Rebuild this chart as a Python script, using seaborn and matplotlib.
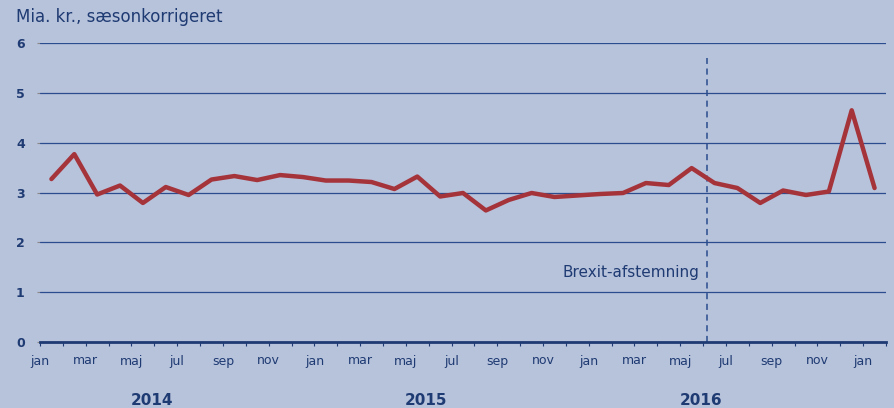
import numpy as np
import pandas as pd
import matplotlib.pyplot as plt
import matplotlib.transforms as mtransforms
import seaborn as sns

# Monthly values jan 2014 - jan 2017 (mia. kr., seasonally adjusted)
values = [3.27, 3.77, 2.96, 3.14, 2.79, 3.11, 2.95, 3.26, 3.33, 3.25, 3.35, 3.31,
          3.24, 3.24, 3.21, 3.07, 3.32, 2.92, 2.99, 2.64, 2.85, 2.99, 2.91, 2.94,
          2.97, 2.99, 3.19, 3.15, 3.49, 3.19, 3.09, 2.79, 3.04, 2.95, 3.02, 4.65, 3.09]
month_labels = ['jan', 'mar', 'maj', 'jul', 'sep', 'nov'] * 3 + ['jan']
years = ['2014', '2015', '2016']
year_pos = [4.9, 16.9, 28.9]
brexit_month = 29.15

bg = '#b7c2db'
navy = '#1f3b73'
grid = '#2b4c8e'
red = '#a5333a'

sns.set_theme(style='white')
plt.rcParams['font.family'] = ['DejaVu Sans']

df = pd.DataFrame({'month': np.arange(len(values)) + 0.5, 'value': values})

fig = plt.figure(figsize=(8.94, 4.08), dpi=100, facecolor=bg)
ax = fig.add_axes([40 / 894, 1 - 342 / 408, 846 / 894, 299 / 408])
ax.set_facecolor(bg)

for v in range(1, 7):
    ax.axhline(v, color=grid, lw=0.9, zorder=1)

sns.lineplot(data=df, x='month', y='value', color=red, lw=3.2, ax=ax, zorder=3)

ax.plot([brexit_month, brexit_month], [0, 5.7], color=grid, lw=1.1,
        ls=(0, (4, 3)), zorder=2)
ax.text(brexit_month - 0.3, 1.4, 'Brexit-afstemning', color=navy, fontsize=11,
        ha='right', va='center')

ax.set_xlim(0, 37)
ax.set_ylim(0, 6)
ax.set_xticks(np.arange(0, 37, 2))
ax.set_xticklabels(month_labels)
ax.set_xticks(np.arange(0, 38), minor=True)
ax.set_yticks(range(0, 7))
ax.tick_params(axis='x', which='both', direction='out', length=3, color=navy,
               width=0.8, labelsize=9, labelcolor=navy, pad=6, bottom=True)
ax.tick_params(axis='y', length=2, color='#888888', width=0.8, labelsize=9,
               labelcolor=navy, pad=9, left=True)
for lab in ax.get_yticklabels():
    lab.set_fontweight('bold')
ax.set_xlabel('')
ax.set_ylabel('')

for s in ['top', 'right', 'left']:
    ax.spines[s].set_visible(False)
ax.spines['bottom'].set_color(navy)
ax.spines['bottom'].set_linewidth(2)

trans = mtransforms.blended_transform_factory(ax.transData, ax.transAxes)
for yr, pos in zip(years, year_pos):
    ax.text(pos, -0.197, yr, transform=trans, ha='center', va='center',
            fontsize=11, fontweight='bold', color=navy)

fig.text(16 / 894, 1 - 17 / 408, 'Mia. kr., sæsonkorrigeret', fontsize=12,
         color=navy, ha='left', va='center')

fig.savefig('out.png', dpi=100, facecolor=bg)
